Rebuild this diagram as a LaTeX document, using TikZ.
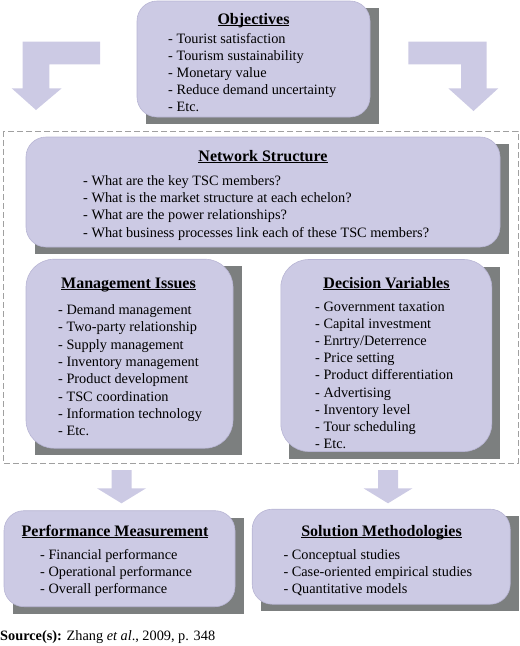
\documentclass[tikz,border=0pt]{standalone}
\usepackage{fontspec}
\setmainfont{Liberation Serif}
\usetikzlibrary{positioning,backgrounds}
\definecolor{boxfill}{RGB}{204,202,228}
\definecolor{boxedge}{RGB}{184,181,212}
\definecolor{shadegray}{RGB}{124,127,127}
\definecolor{framegray}{RGB}{160,160,160}
\newcommand{\ulhead}[1]{\setbox0=\hbox{#1}\rlap{\rule[-1.8pt]{\wd0}{0.9pt}}\box0}

\begin{document}
\begin{tikzpicture}[x=1pt,y=-1pt,
	box/.style={rounded corners=20pt,fill=boxfill,draw=boxedge,line width=0.6pt,inner sep=0pt,outer sep=0pt},
	head/.style={anchor=base,inner sep=0pt,font=\fontsize{16}{19}\selectfont\bfseries},
	item/.style={anchor=base west,inner sep=0pt,font=\fontsize{14.3}{17.2}\selectfont},
	blockarrow/.style={fill=boxfill,draw=none}]

  \useasboundingbox (0,0) rectangle (520,646);

  % boxes
  \node [box,minimum width=233pt,minimum height=116pt] (obj) at (253.5,59) {};
  \node [box,minimum width=474pt,minimum height=110pt] (net) at (263,192) {};
  \node [box,minimum width=207pt,minimum height=189pt,rounded corners=28pt] (mgmt) at (129.5,353.7) {};
  \node [box,minimum width=211pt,minimum height=192pt,rounded corners=28pt] (dec) at (386.3,355.5) {};
  \node [box,minimum width=231pt,minimum height=96pt] (perf) at (119.5,558.7) {};
  \node [box,minimum width=258pt,minimum height=95pt] (sol) at (381.2,556.7) {};

  \begin{scope}[on background layer]
  \foreach \b in {obj,net,mgmt,dec,perf,sol}{
	  \fill [shadegray] ([shift={(8.5,7)}]\b.north west) rectangle ([shift={(8.5,7)}]\b.south east);
  }
  \draw [framegray,dashed,dash pattern=on 6pt off 3pt,line width=0.8pt] (3,131) rectangle (518,463);
  \end{scope}

  % headers
  \node [head] (objh) at (253.5,24) {\ulhead{Objectives}};
  \node [head] (neth) at (263,161) {\ulhead{Network Structure}};
  \node [head] (mgmth) at (128.5,288.5) {\ulhead{Management Issues}};
  \node [head] (dech) at (386.5,288.5) {\ulhead{Decision Variables}};
  \node [head] (perfh) at (115,536) {\ulhead{Performance Measurement}};
  \node [head] (solh) at (381.5,536) {\ulhead{Solution Methodologies}};

  % items
  \foreach \t [count=\i] in {Tourist satisfaction,Tourism sustainability,Monetary value,Reduce demand uncertainty,Etc.}
	  \node [item] (obj\i) at (168,43+17.1*\i-17.1) {- \t};
  \foreach \t [count=\i] in {What are the key TSC members?,What is the market structure at each echelon?,What are the power relationships?,What business processes link each of these TSC members?}
	  \node [item] (net\i) at (83,185.5+17.2*\i-17.2) {- \t};
  \foreach \t [count=\i] in {Demand management,Two-party relationship,Supply management,Inventory management,Product development,TSC coordination,Information technology,Etc.}
	  \node [item] (mgmt\i) at (58,314.5+17.35*\i-17.35) {- \t};
  \foreach \t [count=\i] in {Government taxation,Capital investment,Enrtry/Deterrence,Price setting,Product differentiation,Advertising,Inventory level,Tour scheduling,Etc.}
	  \node [item] (dec\i) at (315,311.5+17.1*\i-17.1) {- \t};
  \foreach \t [count=\i] in {Financial performance,Operational performance,Overall performance}
	  \node [item] (perf\i) at (40,559+17*\i-17) {- \t};
  \foreach \t [count=\i] in {Conceptual studies,Case-oriented empirical studies,Quantitative models}
	  \node [item] (sol\i) at (283.3,559+17*\i-17) {- \t};

  % bent arrows from objectives
  \fill [blockarrow] (100,41.7) -- (22.7,41.7) -- (22.7,88.3) -- (11.7,88.3) -- (36,110)
	  -- (61.7,88.3) -- (49.3,88.3) -- (49.3,64.3) -- (100,64.3) -- cycle;
  \fill [blockarrow] (408.3,41.7) -- (486.7,41.7) -- (486.7,88.3) -- (498.3,88.3) -- (473.5,111)
	  -- (448.3,88.3) -- (461,88.3) -- (461,64.3) -- (408.3,64.3) -- cycle;

  % down arrows
  \foreach \x in {121.5,388}{
	  \fill [blockarrow] (\x-10,470) -- (\x+10,470) -- (\x+10,488.3) -- (\x+24.5,488.3)
		  -- (\x,503.3) -- (\x-24.5,488.3) -- (\x-10,488.3) -- cycle;
  }

  \node [item] (src) at (0,640) {\textbf{Source(s):} Zhang \textit{et al}., 2009, p. 348};

\end{tikzpicture}
\end{document}
